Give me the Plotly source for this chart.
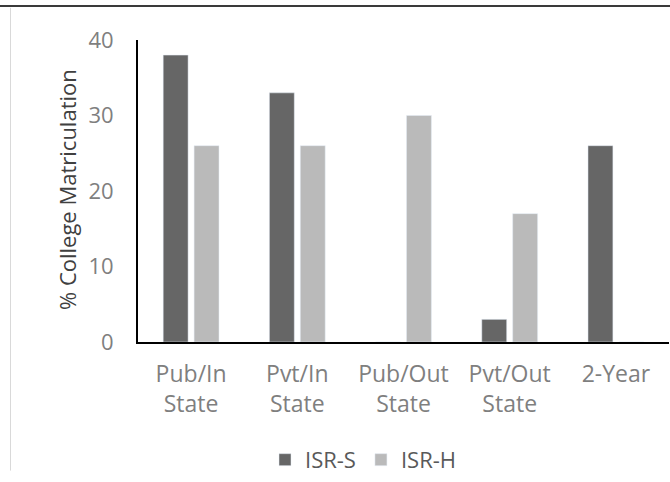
import plotly.graph_objects as go

categories = ["Pub/In<br>State", "Pvt/In<br>State", "Pub/Out<br>State", "Pvt/Out<br>State", "2-Year"]
isr_s = [38, 33, 0, 3, 26]
isr_h = [26, 26, 30, 17, 0]
y_ticks = [0, 10, 20, 30, 40]

FONT = "Open Sans"
W, H = 670, 482
ML, MR, MT, MB = 138, 1, 40, 132
PW = W - ML - MR
PH = H - MT - MB

def px2x(px):
    return (px - ML) / PW

def px2y(py):
    return (H - MB - py) / PH

fig = go.Figure()
fig.add_trace(go.Bar(name="ISR-S", x=categories, y=isr_s, marker_color="#666666"))
fig.add_trace(go.Bar(name="ISR-H", x=categories, y=isr_h, marker_color="#bababa"))

fig.update_layout(
    width=W, height=H,
    margin=dict(l=ML, r=MR, t=MT, b=MB),
    paper_bgcolor="white", plot_bgcolor="white",
    barmode="group", bargap=0.418, bargroupgap=0.194,
    font=dict(family=FONT, size=22, color="#7f7f7f"),
    showlegend=True,
    legend=dict(orientation="h", x=px2x(265), xanchor="left", y=px2y(471), yanchor="middle",
                font=dict(family=FONT, size=22, color="#595959"), bgcolor="rgba(0,0,0,0)"),
    xaxis=dict(showline=True, linecolor="black", linewidth=2, showgrid=False, ticks="",
               ticklabelstandoff=10,
               tickfont=dict(family=FONT, size=23, color="#7f7f7f"), zeroline=False),
    yaxis=dict(range=[0, 40], tickvals=y_ticks, showline=True, linecolor="black", linewidth=2,
               showgrid=False, zeroline=False, ticks="", ticklabelstandoff=18,
               tickfont=dict(family=FONT, size=22, color="#7f7f7f")),
    annotations=[dict(text="% College Matriculation", textangle=-90, xref="paper", yref="paper",
                      x=px2x(67), y=px2y(194), xanchor="center", yanchor="middle", showarrow=False,
                      font=dict(family=FONT, size=22, color="#404040"))],
    shapes=[
        dict(type="line", xref="paper", yref="paper", x0=px2x(0), x1=px2x(670), y0=px2y(5), y1=px2y(5),
             line=dict(color="#3a3a3a", width=2)),
        dict(type="line", xref="paper", yref="paper", x0=px2x(10.5), x1=px2x(10.5), y0=px2y(7), y1=px2y(482),
             line=dict(color="#d9d9d9", width=1)),
    ],
)

fig.write_html("out.html", config={"displayModeBar": False},
               post_script="document.body.style.margin='0';document.body.style.overflow='hidden';")
